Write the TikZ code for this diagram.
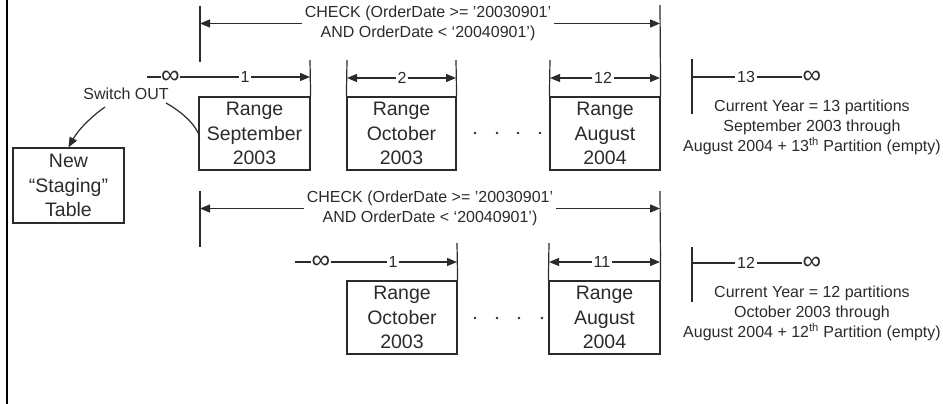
\documentclass[tikz,border=0pt]{standalone}
\usepackage{fontspec}
\setmainfont{Liberation Sans}
\usetikzlibrary{arrows.meta}
\definecolor{ink}{HTML}{2B2B2B}
\begin{document}
\begin{tikzpicture}[x=1pt,y=-1pt,
  ln/.style={draw=ink, line width=1.2pt},
  arr/.style={ln, -{Triangle[length=10pt,width=8pt]}},
  rangebox/.style={draw=ink, line width=1.2pt, text=ink, align=center, inner sep=0pt,
     font=\fontsize{19.5}{24.5}\selectfont, minimum height=73pt},
  lbl/.style={text=ink, font=\fontsize{16}{20}\selectfont, inner sep=1.5pt},
  checktxt/.style={lbl, align=center, inner sep=3pt},
  note/.style={lbl, align=center},
  infsym/.style={text=ink, inner sep=0.5pt, font=\fontsize{26}{26}\selectfont},
  dot/.style={fill=ink, circle, inner sep=0pt, minimum size=2.8pt},
]
\useasboundingbox (0,0) rectangle (943,404);

% left frame edge
\coordinate (bt) at (7,0);
\coordinate (bb) at (7,404);
\draw[black, line width=2.5pt] (bt) -- (bb);

% ---------------- current year: 13 partitions ----------------
\node[rangebox, minimum width=111pt] (r1a) at (254.5,133.5) {Range\\September\\2003};
\node[rangebox, minimum width=109pt] (r1b) at (401.5,133.5) {Range\\October\\2003};
\node[rangebox, minimum width=110pt] (r1c) at (605,133.5) {Range\\August\\2004};
\node[rangebox, minimum width=111pt, minimum height=75pt] (nb) at (68.5,185.5) {New\\“Staging”\\Table};

% check constraint span
\coordinate (c1La) at (200,6);
\coordinate (c1Lb) at (200,62);
\coordinate (c1Ra) at (660,5);
\draw[ln] (c1La) -- (c1Lb);
\draw[ln] (c1Ra) -- (r1c.north east);
\node[checktxt] (chk1) at (428,23.5) {CHECK (OrderDate >= '20030901'\\AND OrderDate < ‘20040901’)};
\draw[arr] (chk1.west) -- (chk1.west -| c1La);
\draw[arr] (chk1.east) -- (chk1.east -| c1Ra);

% partition 1
\coordinate (d1) at (147,77);
\node[infsym] (i1) at (170.5,77) {∞};
\node[lbl] (n1) at (245,77) {1};
\coordinate (v1a) at (310,60);
\draw[ln] (d1) -- (i1.west);
\draw[ln] (i1.east) -- (n1.west);
\draw[arr] (n1.east) -- (n1.east -| v1a);
\draw[ln] (v1a) -- (r1a.north east);

% partition 2
\coordinate (v2a) at (347,60);
\coordinate (v2b) at (456,60);
\draw[ln] (v2a) -- (r1b.north west);
\draw[ln] (v2b) -- (r1b.north east);
\node[lbl] (n2) at (402,78) {2};
\draw[arr] (n2.west) -- (n2.west -| v2a);
\draw[arr] (n2.east) -- (n2.east -| v2b);

% partition 12
\coordinate (v3a) at (550,60);
\draw[ln] (v3a) -- (r1c.north west);
\node[lbl] (n12) at (603,78) {12};
\draw[arr] (n12.west) -- (n12.west -| v3a);
\draw[arr] (n12.east) -- (n12.east -| c1Ra);

\foreach \x in {475,497,518,540} \node[dot] at (\x,133) {};

% partition 13
\coordinate (s1a) at (692,59);
\coordinate (s1b) at (692,114);
\draw[ln] (s1a) -- (s1b);
\node[lbl] (n13) at (746,77) {13};
\node[infsym] (i13) at (812,77) {∞};
\draw[ln] (n13.west -| s1a) -- (n13.west);
\draw[ln] (n13.east) -- (i13.west);
\node[note] (t1) at (812,127.5) {Current Year = 13 partitions\\September 2003 through\\August 2004 + 13\textsuperscript{th} Partition (empty)};

% switch out
\node[lbl] (sw) at (126,94) {Switch OUT};
\coordinate (sw1) at (105,107);
\coordinate (sw2) at (166,103);
\draw[arr] (sw1) .. controls (92,116) and (78,130) .. (nb.north);
\draw[ln] (sw2) .. controls (177,109) and (193,121) .. (r1a.west);

% ---------------- current year: 12 partitions ----------------
\node[rangebox, minimum width=110pt] (r2a) at (402,317.5) {Range\\October\\2003};
\node[rangebox, minimum width=111pt] (r2b) at (604.5,317.5) {Range\\August\\2004};

\coordinate (c2La) at (200,191);
\coordinate (c2Lb) at (200,247);
\coordinate (c2Ra) at (660,191);
\draw[ln] (c2La) -- (c2Lb);
\draw[ln] (c2Ra) -- (r2b.north east);
\node[checktxt] (chk2) at (430,208.5) {CHECK (OrderDate >= '20030901'\\AND OrderDate < ‘20040901’)};
\draw[arr] (chk2.west) -- (chk2.west -| c2La);
\draw[arr] (chk2.east) -- (chk2.east -| c2Ra);

% partition 1
\coordinate (d2) at (295,262);
\node[infsym] (i2) at (321,262) {∞};
\node[lbl] (m1) at (393,262) {1};
\coordinate (w1) at (457,243);
\draw[ln] (d2) -- (i2.west);
\draw[ln] (i2.east) -- (m1.west);
\draw[arr] (m1.east) -- (m1.east -| w1);
\draw[ln] (w1) -- (r2a.north east);

% partition 11
\coordinate (w2) at (549,243);
\draw[ln] (w2) -- (r2b.north west);
\node[lbl] (m11) at (602,262) {11};
\draw[arr] (m11.west) -- (m11.west -| w2);
\draw[arr] (m11.east) -- (m11.east -| c2Ra);

\foreach \x in {475,497,519,542} \node[dot] at (\x,318) {};

% partition 12
\coordinate (s2a) at (692,247);
\coordinate (s2b) at (692,302);
\draw[ln] (s2a) -- (s2b);
\node[lbl] (m12) at (746,263) {12};
\node[infsym] (i12) at (812,263) {∞};
\draw[ln] (m12.west -| s2a) -- (m12.west);
\draw[ln] (m12.east) -- (i12.west);
\node[note] (t2) at (812,313.5) {Current Year = 12 partitions\\October 2003 through\\August 2004 + 12\textsuperscript{th} Partition (empty)};

\end{tikzpicture}
\end{document}
